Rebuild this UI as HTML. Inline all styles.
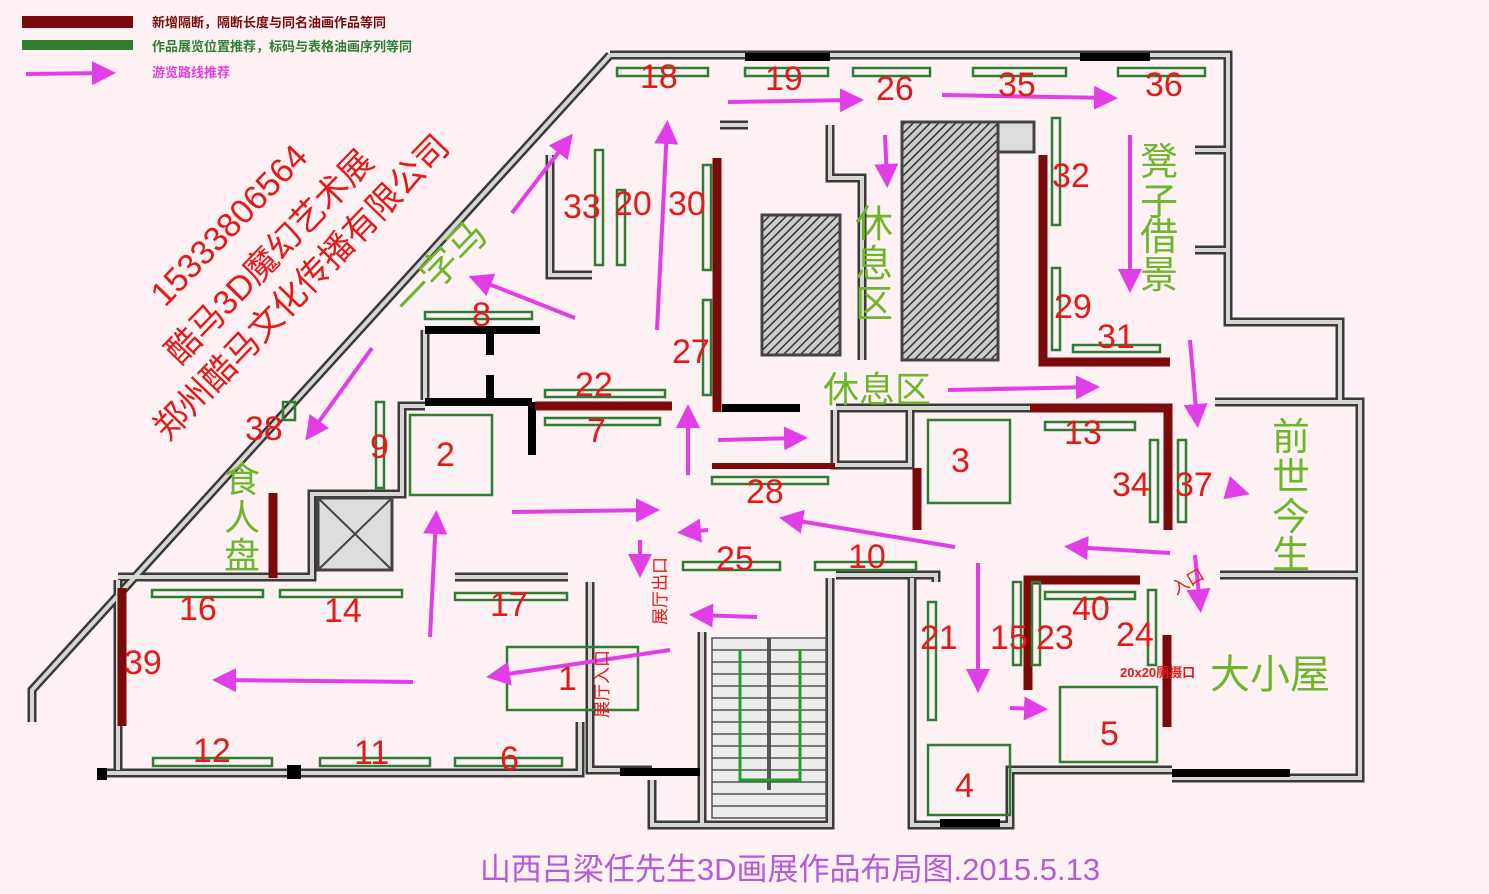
<!DOCTYPE html>
<html><head><meta charset="utf-8"><style>
html,body{margin:0;padding:0;background:#fdf1f3;}
svg{display:block;}
.r{fill:#e21a1a;font-family:"Liberation Sans","Noto Sans CJK SC",sans-serif;font-size:34px;}
.g{fill:#6fb52c;font-family:"Liberation Sans","Noto Sans CJK SC",sans-serif;font-size:38px;}
.wo{fill:none;stroke:#3a3a3a;stroke-width:9;stroke-linejoin:miter;}
.wi{fill:none;stroke:#d8d6d2;stroke-width:4;}
.gp{fill:none;stroke:#2e7d32;stroke-width:2.5;}
.mr{stroke:#7b0a0a;stroke-width:9;}
.bk{stroke:#000;stroke-width:8;}
.ar{stroke:#e23ee8;stroke-width:4;fill:none;}
</style></head><body>
<svg width="1489" height="894" viewBox="0 0 1489 894" xmlns="http://www.w3.org/2000/svg">
<defs>
<marker id="h" markerWidth="6" markerHeight="6" refX="4" refY="3" orient="auto" markerUnits="strokeWidth">
<path d="M0,0 L6,3 L0,6 Z" fill="#e23ee8"/></marker>
<pattern id="ht" width="6" height="6" patternUnits="userSpaceOnUse" patternTransform="rotate(45)"><rect width="6" height="6" fill="#ccc"/><line x1="0" y1="0" x2="0" y2="6" stroke="#333" stroke-width="3"/></pattern>
</defs>
<rect width="1489" height="894" fill="#fdf1f3"/>
<rect x="22" y="16" width="111" height="12" fill="#7b0a0a"/>
<rect x="22" y="40" width="111" height="10" fill="#2e7d32"/>
<line x1="26" y1="74" x2="108" y2="73" class="ar" marker-end="url(#h)"/>
<g font-family="Liberation Sans,'Noto Sans CJK SC',sans-serif" font-size="13" font-weight="bold">
<text x="152" y="27" fill="#7b0a0a">新增隔断，隔断长度与同名油画作品等同</text>
<text x="152" y="51" fill="#2e7d32">作品展览位置推荐，标码与表格油画序列等同</text>
<text x="152" y="77" fill="#e040e0">游览路线推荐</text>
</g>
<g>
<path class="wo" d="M610,55 L32,690 L32,722"/>
<path class="wo" d="M610,55 H1228 V322 H1340 V400"/>
<path class="wo" d="M1215,402 H1360 V778 H1172"/>
<path class="wo" d="M97,773 H580 V722"/>
<path class="wo" d="M118,580 V770"/>
<path class="wo" d="M118,577 H312 V494 H402 V406 H425"/>
<path class="wo" d="M425,330 V400"/>
<path class="wo" d="M455,577 H568"/>
<path class="wo" d="M590,582 V770 H652"/>
<path class="wo" d="M652,780 V825 H710"/>
<path class="wo" d="M702,632 V825 H830 V578"/>
<path class="wo" d="M836,575 H936 V582"/>
<path class="wo" d="M912,578 V825 H1010 V770 H1172"/>
<path class="wo" d="M836,408 H1030"/>
<path class="wo" d="M835,410 V465 H910 V410"/>
<path class="wo" d="M720,125 H748 M830,125 V178 H862 V360"/>
<path class="wo" d="M550,155 V275 H592"/>
<path class="wo" d="M1195,150 H1228 M1195,250 H1228"/>
<path class="wo" d="M1220,575 H1360"/>
</g>
<g>
<path class="wi" d="M610,55 L32,690 L32,722"/>
<path class="wi" d="M610,55 H1228 V322 H1340 V400"/>
<path class="wi" d="M1215,402 H1360 V778 H1172"/>
<path class="wi" d="M97,773 H580 V722"/>
<path class="wi" d="M118,580 V770"/>
<path class="wi" d="M118,577 H312 V494 H402 V406 H425"/>
<path class="wi" d="M425,330 V400"/>
<path class="wi" d="M455,577 H568"/>
<path class="wi" d="M590,582 V770 H652"/>
<path class="wi" d="M652,780 V825 H710"/>
<path class="wi" d="M702,632 V825 H830 V578"/>
<path class="wi" d="M836,575 H936 V582"/>
<path class="wi" d="M912,578 V825 H1010 V770 H1172"/>
<path class="wi" d="M836,408 H1030"/>
<path class="wi" d="M835,410 V465 H910 V410"/>
<path class="wi" d="M720,125 H748 M830,125 V178 H862 V360"/>
<path class="wi" d="M550,155 V275 H592"/>
<path class="wi" d="M1195,150 H1228 M1195,250 H1228"/>
<path class="wi" d="M1220,575 H1360"/>
</g>
<rect x="762" y="215" width="78" height="140" fill="url(#ht)" stroke="#444" stroke-width="3"/>
<rect x="902" y="122" width="96" height="238" fill="url(#ht)" stroke="#444" stroke-width="3"/>
<rect x="998" y="122" width="36" height="30" fill="#ddd" stroke="#444" stroke-width="3"/>
<rect x="318" y="498" width="74" height="72" fill="#ddd" stroke="#444" stroke-width="3"/>
<line x1="318" y1="498" x2="392" y2="570" stroke="#444" stroke-width="2"/><line x1="392" y1="498" x2="318" y2="570" stroke="#444" stroke-width="2"/>
<g stroke="#555" stroke-width="1.5">
<rect x="712" y="638" width="114" height="180" fill="#ececec"/>
<path d="M712,650H826M712,662H826M712,674H826M712,686H826M712,698H826M712,710H826M712,722H826M712,734H826M712,746H826M712,758H826M712,770H826M712,782H826M712,794H826M712,806H826"/>
<line x1="769" y1="638" x2="769" y2="790" stroke-width="4"/>
</g>
<path d="M740,650 V780 H800 V650" fill="none" stroke="#1fa02a" stroke-width="3"/>
<g class="bk">
<line x1="722" y1="408" x2="800" y2="408"/>
<line x1="425" y1="330" x2="540" y2="330"/>
<line x1="490" y1="330" x2="490" y2="355"/>
<line x1="490" y1="375" x2="490" y2="402"/>
<line x1="425" y1="402" x2="532" y2="402"/>
<line x1="532" y1="402" x2="532" y2="455"/>
<line x1="745" y1="57" x2="830" y2="57"/>
<line x1="1080" y1="57" x2="1150" y2="57"/>
<line x1="1172" y1="773" x2="1290" y2="773"/>
<line x1="940" y1="823" x2="1000" y2="823"/>
<line x1="620" y1="772" x2="700" y2="772"/>
</g>
<rect x="97" y="768" width="10" height="12" fill="#000"/><rect x="287" y="765" width="14" height="14" fill="#000"/>
<g class="mr">
<line x1="717" y1="158" x2="717" y2="412"/>
<path d="M1043,155 V362 H1170" fill="none"/>
<line x1="535" y1="406" x2="672" y2="406"/>
<path d="M1030,408 H1168 V530" fill="none"/>
<line x1="917" y1="468" x2="917" y2="530"/>
<line x1="712" y1="466" x2="835" y2="466" stroke-width="6"/>
<line x1="122" y1="588" x2="122" y2="726"/>
<line x1="273" y1="493" x2="273" y2="578"/>
<path d="M1028,690 V580 H1140" fill="none"/>
<line x1="1167" y1="635" x2="1167" y2="727"/>
</g>
<g class="gp">
<rect x="617" y="68" width="91" height="8"/><rect x="745" y="68" width="83" height="8"/>
<rect x="853" y="68" width="77" height="8"/><rect x="973" y="68" width="93" height="8"/>
<rect x="1118" y="68" width="87" height="8"/>
<rect x="595" y="150" width="8" height="115"/><rect x="617" y="190" width="8" height="75"/>
<rect x="703" y="165" width="8" height="105"/><rect x="703" y="300" width="8" height="95"/>
<rect x="1052" y="118" width="8" height="107"/><rect x="1052" y="268" width="8" height="82"/>
<rect x="1073" y="345" width="87" height="7"/>
<rect x="425" y="312" width="107" height="7"/>
<rect x="545" y="390" width="120" height="7"/><rect x="545" y="418" width="115" height="7"/>
<rect x="376" y="402" width="8" height="86"/>
<rect x="283" y="402" width="12" height="18"/>
<rect x="410" y="415" width="82" height="80"/>
<rect x="928" y="420" width="82" height="83"/>
<rect x="1045" y="422" width="90" height="8"/>
<rect x="1150" y="440" width="8" height="82"/><rect x="1178" y="440" width="8" height="82"/>
<rect x="712" y="477" width="116" height="7"/>
<rect x="683" y="562" width="97" height="8"/><rect x="815" y="562" width="101" height="8"/>
<rect x="152" y="590" width="111" height="7"/><rect x="280" y="590" width="122" height="7"/>
<rect x="455" y="593" width="112" height="7"/>
<rect x="507" y="647" width="131" height="63"/>
<rect x="153" y="758" width="119" height="8"/><rect x="320" y="758" width="110" height="8"/>
<rect x="455" y="758" width="107" height="8"/>
<rect x="928" y="602" width="8" height="118"/>
<rect x="1013" y="582" width="8" height="83"/><rect x="1032" y="582" width="8" height="83"/>
<rect x="1045" y="592" width="90" height="7"/>
<rect x="1148" y="590" width="8" height="75"/>
<rect x="1060" y="687" width="97" height="75"/>
<rect x="928" y="745" width="82" height="70"/>
</g>
<g class="ar" marker-end="url(#h)">
<line x1="728" y1="102" x2="856" y2="100"/>
<line x1="942" y1="95" x2="1110" y2="98"/>
<line x1="885" y1="135" x2="887" y2="180"/>
<line x1="512" y1="213" x2="568" y2="140"/>
<line x1="657" y1="330" x2="667" y2="128"/>
<line x1="575" y1="318" x2="476" y2="279"/>
<line x1="372" y1="348" x2="310" y2="434"/>
<line x1="1130" y1="135" x2="1130" y2="285"/>
<line x1="1190" y1="340" x2="1197" y2="420"/>
<line x1="948" y1="390" x2="1092" y2="387"/>
<line x1="718" y1="440" x2="800" y2="438"/>
<line x1="688" y1="475" x2="688" y2="412"/>
<line x1="512" y1="512" x2="652" y2="510"/>
<line x1="955" y1="547" x2="787" y2="519"/>
<line x1="1170" y1="553" x2="1072" y2="547"/>
<line x1="708" y1="530" x2="685" y2="532"/>
<line x1="640" y1="540" x2="640" y2="570"/>
<line x1="757" y1="617" x2="697" y2="615"/>
<line x1="670" y1="650" x2="494" y2="676"/>
<line x1="413" y1="682" x2="220" y2="680"/>
<line x1="430" y1="637" x2="436" y2="518"/>
<line x1="978" y1="563" x2="978" y2="685"/>
<line x1="1010" y1="708" x2="1040" y2="709"/>
<line x1="1195" y1="555" x2="1200" y2="605"/>
<line x1="1228" y1="488" x2="1242" y2="492"/>
</g>
<g class="r">
<text x="640" y="88">18</text><text x="765" y="90">19</text><text x="876" y="100">26</text>
<text x="998" y="96">35</text><text x="1145" y="96">36</text>
<text x="563" y="218">33</text><text x="614" y="215">20</text><text x="668" y="215">30</text>
<text x="1052" y="187">32</text><text x="1054" y="318">29</text><text x="1097" y="348">31</text>
<text x="472" y="326">8</text><text x="672" y="363">27</text>
<text x="575" y="396">22</text><text x="587" y="442">7</text>
<text x="370" y="458">9</text><text x="245" y="440">38</text>
<text x="436" y="466">2</text><text x="951" y="472">3</text>
<text x="1064" y="444">13</text><text x="1112" y="496">34</text><text x="1175" y="496">37</text>
<text x="746" y="503">28</text><text x="716" y="570">25</text><text x="848" y="568">10</text>
<text x="179" y="620">16</text><text x="324" y="622">14</text><text x="490" y="616">17</text>
<text x="124" y="674">39</text><text x="558" y="690">1</text>
<text x="193" y="762">12</text><text x="354" y="764">11</text><text x="500" y="770">6</text>
<text x="920" y="649">21</text><text x="990" y="649">15</text><text x="1036" y="649">23</text>
<text x="1072" y="620">40</text><text x="1116" y="646">24</text>
<text x="1100" y="745">5</text><text x="955" y="797">4</text>
</g>
<g class="g">
<text transform="translate(410,318) rotate(-46)">一字马</text>
<text x="823" y="402" font-size="36">休息区</text>
<text x="1210" y="688" font-size="40">大小屋</text>
<text x="224" y="492" font-size="36">食</text>
<text x="224" y="530" font-size="36">人</text><text x="224" y="568" font-size="36">盘</text>
<text x="855" y="237">休</text><text x="855" y="277">息</text><text x="855" y="317">区</text>
<text x="1140" y="175">凳</text><text x="1140" y="215">子</text><text x="1140" y="250">借</text><text x="1140" y="288">景</text>
<text x="1272" y="450">前</text><text x="1272" y="490">世</text><text x="1272" y="530">今</text><text x="1272" y="568">生</text>
</g>
<g fill="#e21a1a" font-family="Liberation Sans,'Noto Sans CJK SC',sans-serif" font-size="34">
<text transform="translate(165,308) rotate(-46)">15333806564</text>
<text transform="translate(180,366) rotate(-46)">酷马3D魔幻艺术展</text>
<text transform="translate(168,442) rotate(-46)">郑州酷马文化传播有限公司</text>
</g>
<g fill="#e21a1a" font-family="Liberation Sans,'Noto Sans CJK SC',sans-serif" font-size="17">
<text transform="translate(666,625) rotate(-90)">展厅出口</text>
<text transform="translate(608,718) rotate(-90)">展厅入口</text>
<text transform="translate(1176,595) rotate(-30)">入口</text>
</g>
<text x="1120" y="677" fill="#e21a1a" font-family="Liberation Sans,'Noto Sans CJK SC',sans-serif" font-size="13" font-weight="bold">20x20厕摄口</text>
<text x="790" y="880" text-anchor="middle" fill="#b45cd6" font-family="Liberation Sans,'Noto Sans CJK SC',sans-serif" font-size="31">山西吕梁任先生3D画展作品布局图.2015.5.13</text>
</svg>
</body></html>
